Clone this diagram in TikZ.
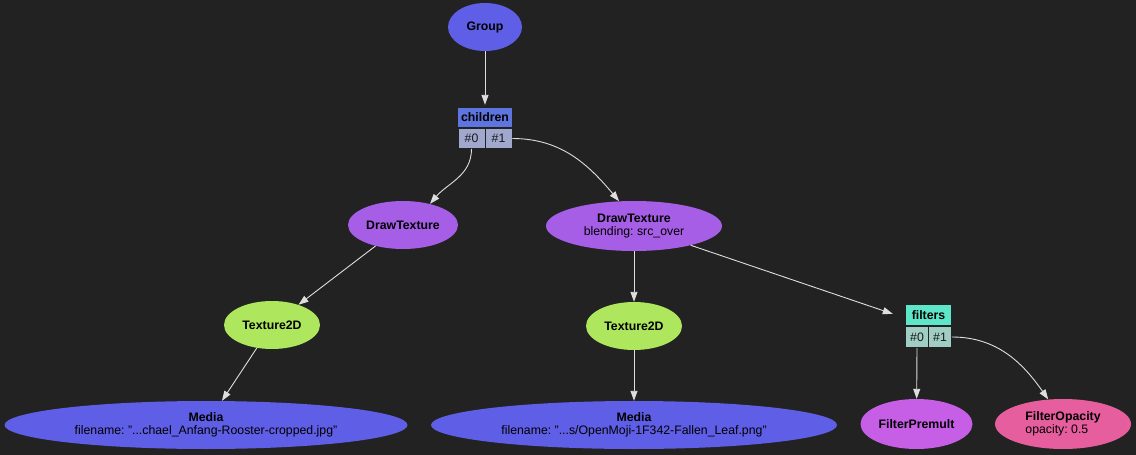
\documentclass[tikz,border=0pt]{standalone}
\usepackage{fontspec}
\setmainfont{Liberation Sans}
\usepackage{tikz}
\usetikzlibrary{positioning,arrows.meta,shapes.geometric}
\frenchspacing
\newcommand{\gvfont}{\fontsize{12.3}{13.5}\selectfont}
\definecolor{gvBack}{RGB}{34,34,34}
\definecolor{gvEdgeCol}{RGB}{222,222,222}
\definecolor{gvBlue}{RGB}{94,94,230}
\definecolor{gvViolet}{RGB}{166,94,230}
\definecolor{gvLime}{RGB}{174,230,94}
\definecolor{gvOrchid}{RGB}{198,94,230}
\definecolor{gvPink}{RGB}{230,94,158}
\definecolor{gvHeadA}{RGB}{94,116,222}
\definecolor{gvCellA}{RGB}{160,168,206}
\definecolor{gvHeadB}{RGB}{94,230,200}
\definecolor{gvCellB}{RGB}{160,206,196}
\tikzset{
  gvNode/.style={ellipse, inner sep=0pt, align=center, font=\gvfont,
    text=black},
  gvHead/.style={rectangle, inner sep=0pt, draw=gvBack, line width=.8pt,
    font=\gvfont\bfseries, text=black},
  gvCell/.style={rectangle, inner sep=0pt, draw=gvBack, line width=.8pt,
    font=\gvfont, text=black!90},
  gvBox/.style={rectangle, inner sep=0pt},
  gvEdge/.style={-{Triangle[length=10pt,width=7pt]}, line width=.9pt,
    draw=gvEdgeCol}
}
\begin{document}
\begin{tikzpicture}[x=1pt,y=-1pt]
\useasboundingbox[fill=gvBack] (0,0) rectangle (1136,455);
% nodes
\node[gvNode,fill=gvBlue,minimum width=74,minimum height=48] (group) at (485,27) {\textbf{Group}};
\node[gvBox,minimum width=56,minimum height=45] (children) at (485,127.5) {};
\node[gvHead,fill=gvHeadA,minimum width=55,minimum height=20] (childrenHead) at (485,117.5) {children};
\node[gvCell,fill=gvCellA,minimum width=27,minimum height=20] (childrenA) at (471.5,138.5) {\#0};
\node[gvCell,fill=gvCellA,minimum width=27,minimum height=20] (childrenB) at (498.5,138.5) {\#1};
\node[gvNode,fill=gvViolet,minimum width=110,minimum height=48] (drawA) at (403,225) {\textbf{DrawTexture}};
\node[gvNode,fill=gvViolet,minimum width=176,minimum height=50] (drawB) at (634,226) {\textbf{DrawTexture}\\blending: src\_over};
\node[gvNode,fill=gvLime,minimum width=96,minimum height=48] (texA) at (272,325) {\textbf{Texture2D}};
\node[gvNode,fill=gvLime,minimum width=96,minimum height=48] (texB) at (634,326) {\textbf{Texture2D}};
\node[gvBox,minimum width=71,minimum height=48] (filters) at (928.5,326) {};
\node[gvHead,fill=gvHeadB,minimum width=46,minimum height=21] (filtersHead) at (928.5,315) {filters};
\node[gvCell,fill=gvCellB,minimum width=23,minimum height=21] (filtersA) at (917,337) {\#0};
\node[gvCell,fill=gvCellB,minimum width=23,minimum height=21] (filtersB) at (940,337) {\#1};
\node[gvNode,fill=gvBlue,minimum width=403,minimum height=48] (mediaA) at (206,425) {\textbf{Media}\\filename: "...chael\_Anfang-Rooster-cropped.jpg"};
\node[gvNode,fill=gvBlue,minimum width=406,minimum height=48] (mediaB) at (634,425) {\textbf{Media}\\filename: "...s/OpenMoji-1F342-Fallen\_Leaf.png"};
\node[gvNode,fill=gvOrchid,minimum width=112,minimum height=50] (premult) at (916.5,424) {\textbf{FilterPremult}};
\node[gvNode,fill=gvPink,minimum width=136,minimum height=50,align=left] (opacity) at (1063,424) {\textbf{FilterOpacity}\\opacity: 0.5};
% edges
\draw[gvEdge] (group) -- (children);
\draw[gvEdge] (childrenA.south) to[out=-90,in=50] (drawA.38);
\draw[gvEdge] (childrenB.east) to[out=0,in=130] (drawB.121);
\draw[gvEdge] (drawA) -- (texA);
\draw[gvEdge] (texA) -- (mediaA);
\draw[gvEdge] (drawB) -- (texB);
\draw[gvEdge] (texB) -- (mediaB);
\draw[gvEdge] (drawB) -- (filters);
\draw[gvEdge] (filtersA.south) -- (premult);
\draw[gvEdge] (filtersB.east) to[out=0,in=125] (opacity.121);
\end{tikzpicture}
\end{document}
